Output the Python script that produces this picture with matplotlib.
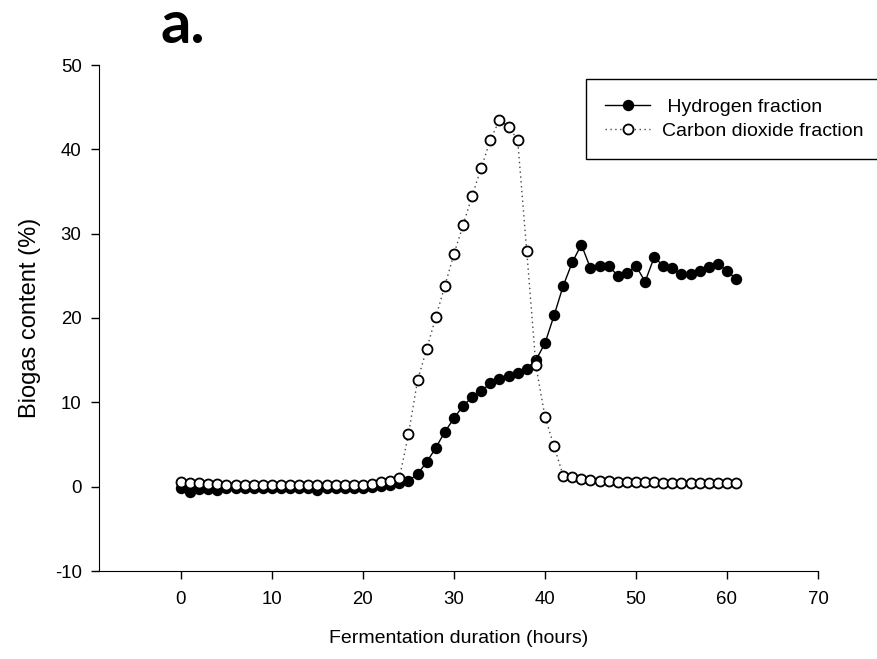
import numpy as np
import matplotlib
matplotlib.use("Agg")
import matplotlib.pyplot as plt

plt.rcParams['font.family'] = ['Liberation Sans', 'DejaVu Sans']
plt.rcParams['axes.unicode_minus'] = False

# sampling time (hours) and gas fractions (%)
hours = list(range(62))

hydrogen = [-0.1, -0.6, -0.3, -0.3, -0.4, -0.2, -0.1, -0.1, -0.1, -0.1,
            -0.1, -0.1, -0.1, -0.1, -0.1, -0.4, -0.1, -0.1, -0.1, -0.1,
            -0.1, 0.0, 0.1, 0.2, 0.4, 0.7, 1.5, 2.9, 4.6, 6.5,
            8.1, 9.6, 10.6, 11.3, 12.3, 12.8, 13.1, 13.5, 14.0, 15.0,
            17.0, 20.3, 23.8, 26.6, 28.7, 25.9, 26.2, 26.2, 25.0, 25.3,
            26.2, 24.3, 27.2, 26.2, 25.9, 25.2, 25.2, 25.6, 26.0, 26.4,
            25.6, 24.6]

carbon_dioxide = [0.6, 0.4, 0.4, 0.3, 0.3, 0.2, 0.2, 0.2, 0.2, 0.2,
                  0.2, 0.2, 0.2, 0.2, 0.2, 0.2, 0.2, 0.2, 0.2, 0.2,
                  0.2, 0.3, 0.5, 0.7, 1.0, 6.2, 12.6, 16.3, 20.1, 23.8,
                  27.6, 31.0, 34.5, 37.8, 41.1, 43.5, 42.7, 41.1, 27.9, 14.4,
                  8.3, 4.8, 1.3, 1.1, 0.9, 0.8, 0.7, 0.7, 0.6, 0.6,
                  0.5, 0.5, 0.5, 0.4, 0.4, 0.4, 0.4, 0.4, 0.4, 0.4,
                  0.4, 0.4]

fig = plt.figure(figsize=(8.78, 6.59), dpi=100)
ax = fig.add_axes([99/878, 1 - 571/659, (818 - 99)/878, (571 - 65)/659])

ax.plot(hours, hydrogen, color='black', linewidth=1.0, marker='o',
        markersize=7.2, markerfacecolor='black', markeredgecolor='black',
        label=' Hydrogen fraction', zorder=3)
ax.plot(hours, carbon_dioxide, color='#444444', linewidth=1.0,
        linestyle=(0, (1, 2.5)), marker='o', markersize=7.2,
        markerfacecolor='white', markeredgecolor='black', markeredgewidth=1.3,
        label='Carbon dioxide fraction', zorder=4)

ax.set_xlim(-9, 70)
ax.set_ylim(-10, 50)
ax.set_xticks(range(0, 71, 10))
ax.set_yticks(range(-10, 51, 10))
ax.spines['top'].set_visible(False)
ax.spines['right'].set_visible(False)
ax.tick_params(direction='out', length=5.5, width=1, labelsize=13.4)
ax.tick_params(axis='x', pad=9)
ax.tick_params(axis='y', pad=7)

ax.set_xlabel('Fermentation duration (hours)', fontsize=14, labelpad=16)
ax.set_ylabel('Biogas content (%)', fontsize=17, labelpad=10)

fig.text(161/878, 1 - 43/659, 'a.', fontsize=43, fontweight='bold',
         family=['Lato', 'DejaVu Sans'], ha='left', va='baseline')

leg = ax.legend(loc='upper left', bbox_to_anchor=(586/878, 1 - 79/659),
                bbox_transform=fig.transFigure, borderaxespad=0,
                fancybox=False, edgecolor='black', framealpha=1,
                fontsize=14, handlelength=2.3, labelspacing=0.3,
                borderpad=1.0, handletextpad=0.6)
leg.get_frame().set_linewidth(1.0)
leg.set_zorder(5)

fig.savefig('out.png', dpi=100)
